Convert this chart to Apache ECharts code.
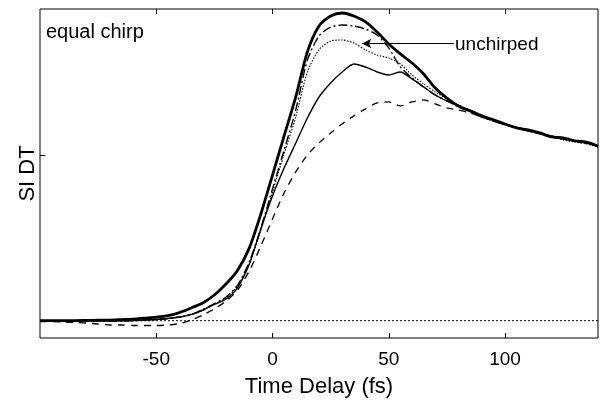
<!DOCTYPE html>
<html><head><meta charset="utf-8">
<script src="https://cdn.jsdelivr.net/npm/echarts@6/dist/echarts.min.js"></script>
<style>html,body{margin:0;padding:0;background:#fff}#c{width:600px;height:405px}</style>
</head><body><div id="c"></div>
<script>
// Time delay grid (fs)
var delay = [-100,-95,-90,-85,-80,-75,-70,-65,-60,-55,-50,-45,-40,-35,-30,-25,-20,-15,-10,-5,0,5,10,15,20,25,30,35,40,45,50,55,60,65,70,75,80,85,90,95,100,105,110,115,120,125,130,135,140];
// thick solid
var thickSolid = [0.001,0.001,0.001,0.001,0.002,0.003,0.004,0.007,0.010,0.016,0.022,0.031,0.049,0.077,0.107,0.155,0.221,0.305,0.438,0.644,0.879,1.115,1.350,1.622,1.779,1.839,1.857,1.839,1.803,1.742,1.670,1.610,1.555,1.489,1.404,1.344,1.296,1.266,1.236,1.212,1.187,1.163,1.151,1.133,1.109,1.103,1.085,1.078,1.054];
// dash-dot
var dashDot = [-0.002,-0.002,-0.002,-0.002,-0.002,-0.002,-0.002,-0.002,0.001,0.004,0.007,0.013,0.022,0.037,0.068,0.103,0.143,0.215,0.354,0.560,0.795,1.030,1.271,1.573,1.718,1.772,1.784,1.778,1.760,1.724,1.646,1.531,1.465,1.410,1.362,1.326,1.290,1.260,1.229,1.205,1.181,1.169,1.145,1.127,1.115,1.097,1.085,1.073,1.049];
// dotted (unchirped)
var unchirped = [-0.001,-0.001,-0.001,-0.001,-0.001,-0.001,-0.001,-0.001,0.001,0.004,0.010,0.013,0.022,0.040,0.066,0.100,0.137,0.209,0.342,0.547,0.777,1.006,1.229,1.501,1.635,1.688,1.694,1.676,1.634,1.603,1.585,1.549,1.483,1.429,1.380,1.338,1.302,1.272,1.242,1.212,1.187,1.163,1.145,1.127,1.115,1.091,1.079,1.066,1.049];
// thin solid
var thinSolid = [0,0,0,0,0,0,0,0,0.001,0.004,0.007,0.013,0.022,0.037,0.063,0.098,0.131,0.200,0.340,0.555,0.753,0.921,1.072,1.223,1.350,1.435,1.501,1.549,1.531,1.501,1.483,1.501,1.459,1.411,1.362,1.326,1.296,1.266,1.236,1.212,1.187,1.163,1.145,1.133,1.109,1.097,1.085,1.073,1.054];
// dashed
var dashed = [-0.005,-0.005,-0.008,-0.011,-0.014,-0.020,-0.026,-0.026,-0.029,-0.029,-0.029,-0.026,-0.017,0.004,0.034,0.071,0.119,0.185,0.300,0.451,0.614,0.771,0.898,1.000,1.073,1.133,1.188,1.236,1.278,1.314,1.320,1.296,1.320,1.332,1.308,1.284,1.272,1.254,1.229,1.205,1.181,1.163,1.145,1.127,1.115,1.097,1.085,1.073,1.049];
var xTicks = [-50, 0, 50, 100];
var arrowFrom = [78, 1.673], arrowTo = [38.6, 1.673];

function pairs(ys){ return delay.map(function(x,i){ return [x, ys[i]]; }); }
var chart = echarts.init(document.getElementById('c'));
var FONT = 'Liberation Sans, Arial, Helvetica, sans-serif';
function line(name, ys, w, type){
  return {name:name, type:'line', data:pairs(ys), showSymbol:false, smooth:0.25,
    lineStyle:{color:'#000', width:w, type:type}, z:3, silent:true};
}
chart.setOption({
  animation:false,
  grid:{left:40, right:2, top:9, bottom:67, show:true, borderColor:'#000', borderWidth:1, backgroundColor:'transparent'},
  xAxis:[{type:'value', min:-100, max:140, position:'bottom',
    axisLine:{show:false, onZero:false}, splitLine:{show:false},
    axisTick:{inside:true, length:5, lineStyle:{color:'#000'}, customValues:xTicks},
    axisLabel:{color:'#000', fontSize:19, fontFamily:FONT, margin:12, customValues:xTicks},
    name:'Time Delay (fs)', nameLocation:'middle', nameGap:38,
    nameTextStyle:{color:'#000', fontSize:22, fontFamily:FONT}},
   {type:'value', min:-100, max:140, position:'top',
    axisLine:{show:false, onZero:false}, splitLine:{show:false},
    axisTick:{inside:true, length:5, lineStyle:{color:'#000'}, customValues:xTicks},
    axisLabel:{show:false}}],
  yAxis:{type:'value', min:-0.1044, max:1.881,
    axisLine:{show:false, onZero:false}, splitLine:{show:false},
    axisTick:{inside:true, length:5, lineStyle:{color:'#000'}, customValues:[1]},
    axisLabel:{show:false},
    name:'SI DT', nameLocation:'middle', nameGap:1, nameRotate:90,
    nameTextStyle:{color:'#000', fontSize:22, fontFamily:FONT}},
  series:[
    {name:'baseline', type:'line', data:[[-100,0],[140,0]], showSymbol:false,
     lineStyle:{color:'#000', width:1, type:[2,2]}, z:2, silent:true,
     markLine:{silent:true, symbol:['none','arrow'], symbolSize:[7,9], label:{show:false},
       lineStyle:{color:'#000', width:1, type:'solid'},
       data:[[{coord:arrowFrom},{coord:arrowTo}]]}},
    line('dashed', dashed, 1.3, [7,6]),
    line('thin', thinSolid, 1.4, 'solid'),
    line('unchirped', unchirped, 1.1, [1.5,1.5]),
    line('dashdot', dashDot, 1.4, [9,3,2,3]),
    line('thick', thickSolid, 2.8, 'solid')
  ],
  graphic:[
    {type:'text', left:46, top:22, style:{text:'equal chirp', font:'20px '+FONT, fill:'#000'}},
    {type:'text', left:455, top:35, style:{text:'unchirped', font:'19px '+FONT, fill:'#000'}}
  ]
});
</script></body></html>
